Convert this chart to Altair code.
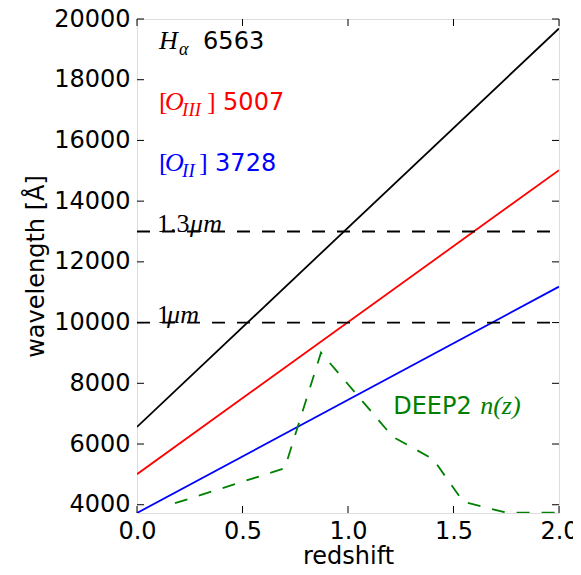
import altair as alt
import pandas as pd

# --- data ---
z_ends = [0.0, 2.0]
halpha = [6563, 19689]
oiii = [5007, 15021]
oii = [3728, 11184]

deep2_z = [0.18, 0.46, 0.70, 0.872, 1.212, 1.404, 1.546, 1.75, 2.0]
deep2_n = [4050, 4670, 5200, 9010, 6240, 5500, 4100, 3740, 3740]

hlines = [13000, 10000]
xticks = [0.0, 0.5, 1.0, 1.5, 2.0]
yticks = [4000, 6000, 8000, 10000, 12000, 14000, 16000, 18000, 20000]

W, H = 422, 494
XD = [0, 2]
YD = [3728, 20000]
FS = 24
MS = 26
SANS = "DejaVu Sans"
SERIF = "Liberation Serif"

xs = alt.Scale(domain=XD, nice=False, zero=False)
ys = alt.Scale(domain=YD, nice=False, zero=False)

lines_df = pd.DataFrame({
    "z": z_ends * 3,
    "w": halpha + oiii + oii,
    "s": ["Ha"] * 2 + ["OIII"] * 2 + ["OII"] * 2,
})
color_scale = alt.Scale(domain=["Ha", "OIII", "OII"], range=["#000000", "#ff0000", "#0000ff"])

base_x = alt.X("z:Q", scale=xs, axis=alt.Axis(
    title="redshift", values=xticks, format=".1f", ticks=False, grid=False,
    labelFlush=False, labelOverlap=False,
    labelFont=SANS, labelFontSize=FS, labelColor="black", labelPadding=6,
    titleFont=SANS, titleFontSize=FS, titleFontWeight="normal", titleColor="black",
    titlePadding=1, domain=False))
base_y = alt.Y("w:Q", scale=ys, axis=alt.Axis(
    title="wavelength [Å]", values=yticks, format="d", ticks=False, grid=False,
    labelFlush=False, labelOverlap=False,
    labelFont=SANS, labelFontSize=FS, labelColor="black", labelPadding=7,
    titleFont=SANS, titleFontSize=FS, titleFontWeight="normal", titleColor="black",
    titlePadding=5, domain=False))

lines = alt.Chart(lines_df).mark_line(strokeWidth=1.8, clip=True).encode(
    x=base_x, y=base_y,
    color=alt.Color("s:N", scale=color_scale, legend=None),
    detail="s:N",
)

hl_df = pd.DataFrame({"w": hlines})
hl = alt.Chart(hl_df).mark_rule(color="black", strokeWidth=1.8, strokeDash=[13, 12]).encode(
    y=alt.Y("w:Q", scale=ys), x=alt.value(0), x2=alt.value(W))

deep_df = pd.DataFrame({"z": deep2_z, "w": deep2_n})
deep = alt.Chart(deep_df).mark_line(color="#008000", strokeWidth=1.8, strokeDash=[13, 12], clip=True).encode(
    x=alt.X("z:Q", scale=xs), y=alt.Y("w:Q", scale=ys))

# tick marks (inward, all four sides)
xt_df = pd.DataFrame({"z": xticks})
yt_df = pd.DataFrame({"w": yticks})
TL = 7
xt_bot = alt.Chart(xt_df).mark_rule(color="black", strokeWidth=1).encode(
    x=alt.X("z:Q", scale=xs), y=alt.value(H), y2=alt.value(H - TL))
xt_top = alt.Chart(xt_df).mark_rule(color="black", strokeWidth=1).encode(
    x=alt.X("z:Q", scale=xs), y=alt.value(0), y2=alt.value(TL))
yt_l = alt.Chart(yt_df).mark_rule(color="black", strokeWidth=1).encode(
    y=alt.Y("w:Q", scale=ys), x=alt.value(0), x2=alt.value(TL))
yt_r = alt.Chart(yt_df).mark_rule(color="black", strokeWidth=1).encode(
    y=alt.Y("w:Q", scale=ys), x=alt.value(W), x2=alt.value(W - TL))

# text labels: pieces with pixel offsets
lab_z = 0.1
lab_rows = [
    # text, w, dx, dy, font, size, style, color
    ("H", 19000, 1, 0, SERIF, MS, "italic", "black"),
    ("α", 19000, 21, 6, SERIF, 18, "italic", "black"),
    ("6563", 19000, 45, 0, SANS, FS, "normal", "black"),
    ("[", 17000, 1, 0, SERIF, MS, "normal", "#ff0000"),
    ("O", 17000, 7, 0, SERIF, MS, "italic", "#ff0000"),
    ("III", 17000, 24, 6, SERIF, 19, "italic", "#ff0000"),
    ("]", 17000, 49, 0, SERIF, MS, "normal", "#ff0000"),
    ("5007", 17000, 65, 0, SANS, FS, "normal", "#ff0000"),
    ("[", 15000, 1, 0, SERIF, MS, "normal", "#0000ff"),
    ("O", 15000, 7, 0, SERIF, MS, "italic", "#0000ff"),
    ("II", 15000, 24, 6, SERIF, 19, "italic", "#0000ff"),
    ("]", 15000, 41, 0, SERIF, MS, "normal", "#0000ff"),
    ("3728", 15000, 57, 0, SANS, FS, "normal", "#0000ff"),
    ("1.3", 13000, -1, 0, SERIF, MS, "normal", "black"),
    ("μm", 13000, 32, 0, SERIF, MS, "italic", "black"),
    ("1", 10000, -1, 0, SERIF, MS, "normal", "black"),
    ("μm", 10000, 9, 0, SERIF, MS, "italic", "black"),
]
texts = []
for t, w, dx, dy, font, size, style, col in lab_rows:
    texts.append(alt.Chart(pd.DataFrame({"z": [lab_z], "w": [w], "t": [t]})).mark_text(
        align="left", baseline="alphabetic", dx=dx, dy=dy, font=font, fontSize=size,
        fontStyle=style, color=col).encode(
        x=alt.X("z:Q", scale=xs), y=alt.Y("w:Q", scale=ys), text="t:N"))

deep_lab_z = [1.2]
deep_lab_w = [7000]
for t, dx, font, size, style in [("DEEP2", 3, SANS, FS, "normal"), ("n(z)", 90, SERIF, MS, "italic")]:
    texts.append(alt.Chart(pd.DataFrame({"z": deep_lab_z, "w": deep_lab_w, "t": [t]})).mark_text(
        align="left", baseline="alphabetic", dx=dx, font=font, fontSize=size,
        fontStyle=style, color="#008000").encode(
        x=alt.X("z:Q", scale=xs), y=alt.Y("w:Q", scale=ys), text="t:N"))

chart = alt.layer(lines, hl, deep, xt_bot, xt_top, yt_l, yt_r, *texts).properties(
    width=W, height=H,
    autosize=alt.AutoSizeParams(type="none"),
    padding={"left": 129, "top": 11, "right": 14, "bottom": 52},
).configure_view(stroke="black", strokeWidth=1.5).configure(background="white")

chart.save("out.html", embed_options={"renderer": "svg", "actions": False})
